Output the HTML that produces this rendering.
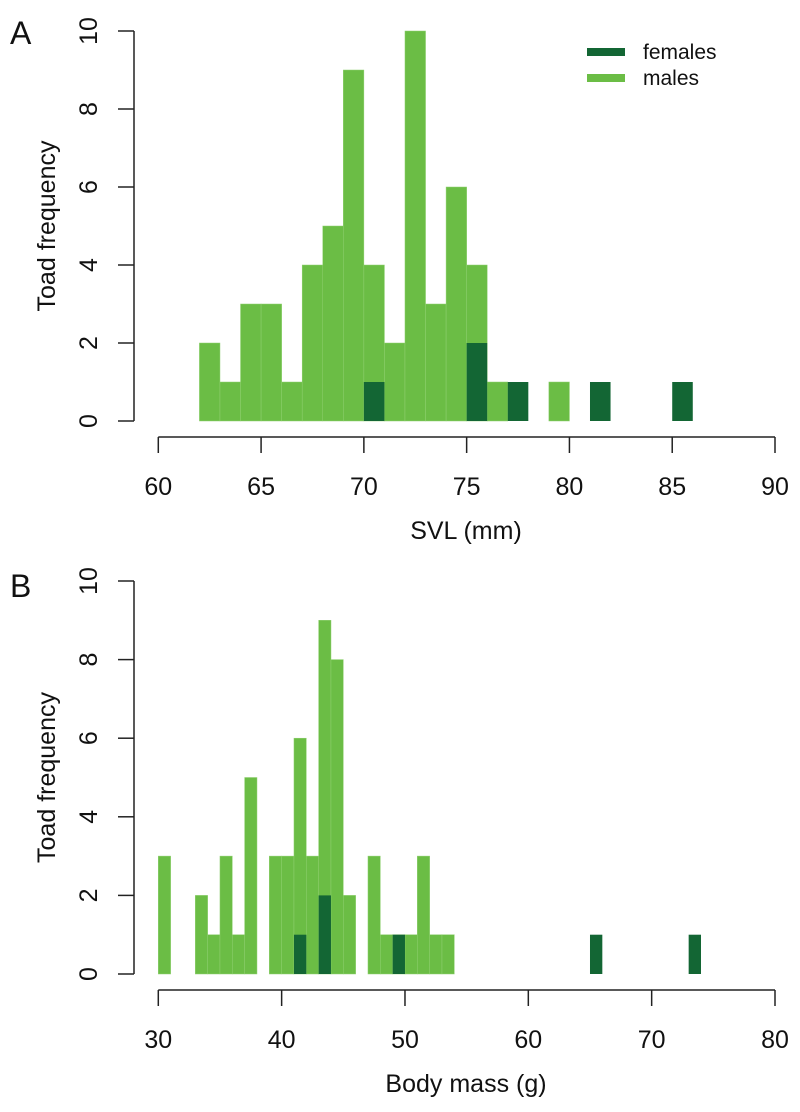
<!DOCTYPE html>
<html><head><meta charset="utf-8"><style>
body{margin:0;background:#fff}
svg text{font-family:"Liberation Sans",sans-serif;fill:#111}
</style></head><body>
<svg id="c" width="800" height="1107"></svg>
<script>
// Panel A: SVL bins (lower edge, width 1)
const svlBins=[62,63,64,65,66,67,68,69,70,71,72,73,74,75,76,77,78,79,80,81,82,83,84,85];
const svlMales=[2,1,3,3,1,4,5,9,4,2,10,3,6,4,1,0,0,1,0,0,0,0,0,0];
const svlFemales=[0,0,0,0,0,0,0,0,1,0,0,0,0,2,0,1,0,0,0,1,0,0,0,1];
const svlTicks=[60,65,70,75,80,85,90];
// Panel B: body mass bins
const massBins=[30,31,32,33,34,35,36,37,38,39,40,41,42,43,44,45,46,47,48,49,50,51,52,53,54,55,56,57,58,59,60,61,62,63,64,65,66,67,68,69,70,71,72,73];
const massMales=[3,0,0,2,1,3,1,5,0,3,3,6,3,9,8,2,0,3,1,1,1,3,1,1,0,0,0,0,0,0,0,0,0,0,0,0,0,0,0,0,0,0,0,0];
const massFemales=[0,0,0,0,0,0,0,0,0,0,0,1,0,2,0,0,0,0,0,1,0,0,0,0,0,0,0,0,0,0,0,0,0,0,0,1,0,0,0,0,0,0,0,1];
const massTicks=[30,40,50,60,70,80];
const yTicks=[0,2,4,6,8,10];

const svg=document.getElementById('c');
const NS='http://www.w3.org/2000/svg';
function mk(t,a,p){const e=document.createElementNS(NS,t);for(const k in a)e.setAttribute(k,a[k]);(p||svg).appendChild(e);return e;}
const LIGHT='#6bbd45',DARK='#136634';
const FS=25;

function panel(o){
  const g=mk('g',{});
  
  
  const xs=v=>158.3+(v-o.xmin)*(775-158.3)/(o.xmax-o.xmin);
  const ys=v=>o.y0-v*o.yu;
  o.bins.forEach((b,i)=>{
    if(o.males[i]>0){const r=mk('rect',{x:xs(b),y:ys(o.males[i]),width:xs(b+1)-xs(b),height:o.males[i]*o.yu,fill:LIGHT,stroke:'#8fd070','stroke-width':0.5},g);
      }
  });
  o.bins.forEach((b,i)=>{
    if(o.fem[i]>0){const r=mk('rect',{x:xs(b),y:ys(o.fem[i]),width:xs(b+1)-xs(b),height:o.fem[i]*o.yu,fill:DARK},g);
      }
  });
  const ya=mk('g',{},g);
  mk('line',{x1:134,x2:134,y1:ys(0),y2:ys(10),stroke:'#222','stroke-width':1.5},ya);
  yTicks.forEach(t=>{mk('line',{x1:118,x2:134,y1:ys(t),y2:ys(t),stroke:'#222','stroke-width':1.5},ya);
    const tx=mk('text',{x:0,y:0,'font-size':FS,'text-anchor':'middle',transform:`translate(97,${ys(t)}) rotate(-90)`},ya);tx.textContent=t;});
  const yl=mk('text',{'font-size':FS,'text-anchor':'middle',transform:`translate(55,${ys(5)}) rotate(-90)`},g);
  yl.textContent='Toad frequency';
  const xa=mk('g',{},g);
  const ax=o.y0+16;
  mk('line',{x1:xs(o.ticks[0]),x2:xs(o.ticks[o.ticks.length-1]),y1:ax,y2:ax,stroke:'#222','stroke-width':1.5},xa);
  o.ticks.forEach(t=>{mk('line',{x1:xs(t),x2:xs(t),y1:ax,y2:ax+16,stroke:'#222','stroke-width':1.5},xa);
    const tx=mk('text',{x:xs(t),y:ax+58,'font-size':FS,'text-anchor':'middle'},xa);tx.textContent=t;});
  const xl=mk('text',{x:466,y:o.y0+118,'font-size':FS,'text-anchor':'middle'},g);
  xl.textContent=o.xlab;
  const pl=mk('text',{x:10,y:o.y0-377,'font-size':32},g);
  pl.textContent=o.id;
}
panel({id:'A',bins:svlBins,males:svlMales,fem:svlFemales,ticks:svlTicks,xmin:60,xmax:90,y0:421,yu:39,xlab:'SVL (mm)'});
panel({id:'B',bins:massBins,males:massMales,fem:massFemales,ticks:massTicks,xmin:30,xmax:80,y0:974,yu:39.3,xlab:'Body mass (g)'});

const lg=mk('g',{});
[['females',DARK,52],['males',LIGHT,78]].forEach(([n,c,y])=>{
  const e=mk('g',{},lg);
  mk('rect',{x:587,y:y-4,width:38,height:8,fill:c},e);
  const t=mk('text',{x:643,y:y+7,'font-size':21},e);t.textContent=n;
});
</script>
</body></html>
